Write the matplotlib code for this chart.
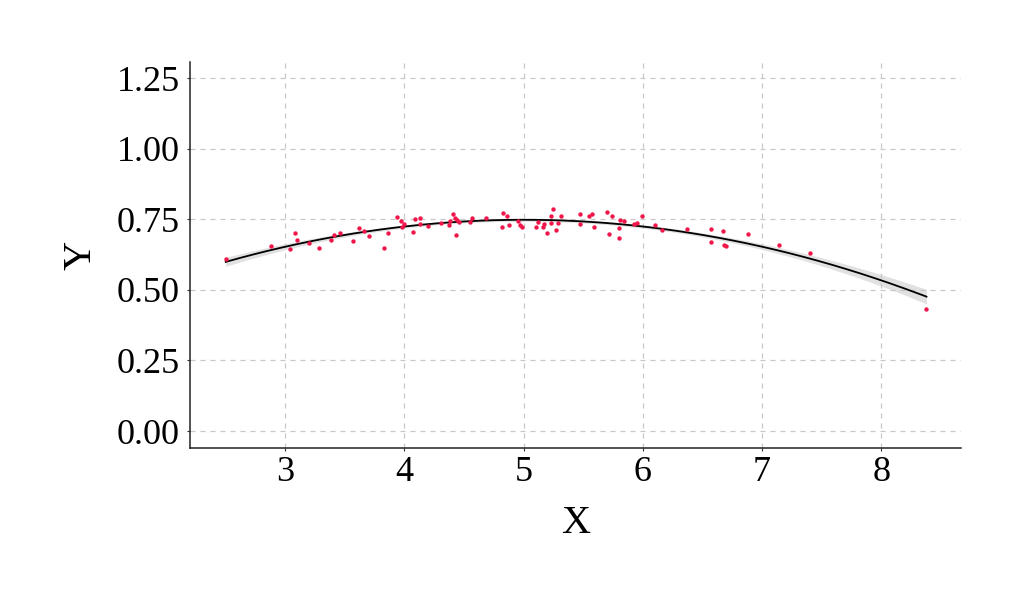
import numpy as np
import matplotlib
matplotlib.use("Agg")
import matplotlib.pyplot as plt

# scatter data
x_vals = [2.50, 2.88, 3.04, 3.08, 3.10, 3.20, 3.28, 3.38, 3.41, 3.46, 3.57, 3.62,
          3.66, 3.70, 3.83, 3.86, 3.94, 3.97, 3.98, 4.00, 4.07, 4.09, 4.13, 4.13,
          4.20, 4.31, 4.37, 4.38, 4.41, 4.42, 4.43, 4.44, 4.46, 4.55, 4.57, 4.68,
          4.82, 4.83, 4.86, 4.88, 4.95, 4.97, 4.99, 5.10, 5.12, 5.16, 5.17, 5.20,
          5.23, 5.23, 5.25, 5.27, 5.29, 5.31, 5.47, 5.47, 5.55, 5.57, 5.59, 5.70,
          5.72, 5.74, 5.80, 5.80, 5.81, 5.84, 5.93, 5.95, 5.99, 6.10, 6.16, 6.37,
          6.57, 6.57, 6.67, 6.68, 6.70, 6.88, 7.14, 7.40, 8.38]
y_vals = [0.611, 0.657, 0.643, 0.700, 0.675, 0.667, 0.647, 0.676, 0.696, 0.703, 0.672, 0.720,
          0.708, 0.690, 0.649, 0.702, 0.757, 0.743, 0.723, 0.734, 0.704, 0.752, 0.755, 0.734,
          0.726, 0.737, 0.728, 0.743, 0.767, 0.755, 0.696, 0.749, 0.740, 0.740, 0.755, 0.755,
          0.722, 0.773, 0.761, 0.730, 0.743, 0.728, 0.722, 0.723, 0.740, 0.723, 0.735, 0.702,
          0.737, 0.763, 0.785, 0.711, 0.737, 0.761, 0.767, 0.732, 0.763, 0.767, 0.723, 0.775,
          0.698, 0.763, 0.684, 0.720, 0.747, 0.743, 0.734, 0.737, 0.761, 0.728, 0.711, 0.714,
          0.714, 0.670, 0.708, 0.660, 0.657, 0.698, 0.658, 0.631, 0.433]

x_ticks = [3, 4, 5, 6, 7, 8]
y_ticks = [0.00, 0.25, 0.50, 0.75, 1.00, 1.25]

x = np.array(x_vals)
y = np.array(y_vals)

# quadratic fit with confidence band
X = np.vstack([np.ones_like(x), x, x ** 2]).T
beta, res, _, _ = np.linalg.lstsq(X, y, rcond=None)
n, p = X.shape
sigma2 = np.sum((y - X @ beta) ** 2) / (n - p)
cov = sigma2 * np.linalg.inv(X.T @ X)
xs = np.linspace(x.min(), x.max(), 200)
Xs = np.vstack([np.ones_like(xs), xs, xs ** 2]).T
ys = Xs @ beta
se = np.sqrt(np.einsum("ij,jk,ik->i", Xs, cov, Xs))

plt.rcParams['font.family'] = ['Liberation Serif', 'DejaVu Serif']

fig = plt.figure(figsize=(10.24, 6.06), dpi=100)
ax = fig.add_axes([0.1855, 0.2607, 0.753, 0.637])

ax.fill_between(xs, ys - 1.6 * se, ys + 1.6 * se, color='#c4c4c4', alpha=0.5, lw=0, zorder=2)
ax.plot(xs, ys, color='black', lw=1.3, zorder=3)
ax.scatter(x, y, s=10, color='#f0164a', zorder=4, linewidths=0)

ax.set_xlim(2.2, 8.67)
ax.set_ylim(-0.06, 1.307)
ax.set_xticks(x_ticks)
ax.set_yticks(y_ticks)
ax.set_yticklabels([f"{v:.2f}" for v in y_ticks])

ax.grid(True, ls=(0, (4, 4)), color='#c8c8c8', lw=0.9)
ax.set_axisbelow(True)
for s in ['top', 'right']:
    ax.spines[s].set_visible(False)
for s in ['left', 'bottom']:
    ax.spines[s].set_linewidth(1.1)
    ax.spines[s].set_color('#222222')

ax.tick_params(labelsize=26, length=2.5, color='#333333')
ax.tick_params(axis='x', pad=3)
ax.tick_params(axis='y', pad=5)
ax.set_xlabel('X', fontsize=29, labelpad=12)
ax.set_ylabel('Y', fontsize=29, labelpad=12)

fig.savefig('out.png', dpi=100)
